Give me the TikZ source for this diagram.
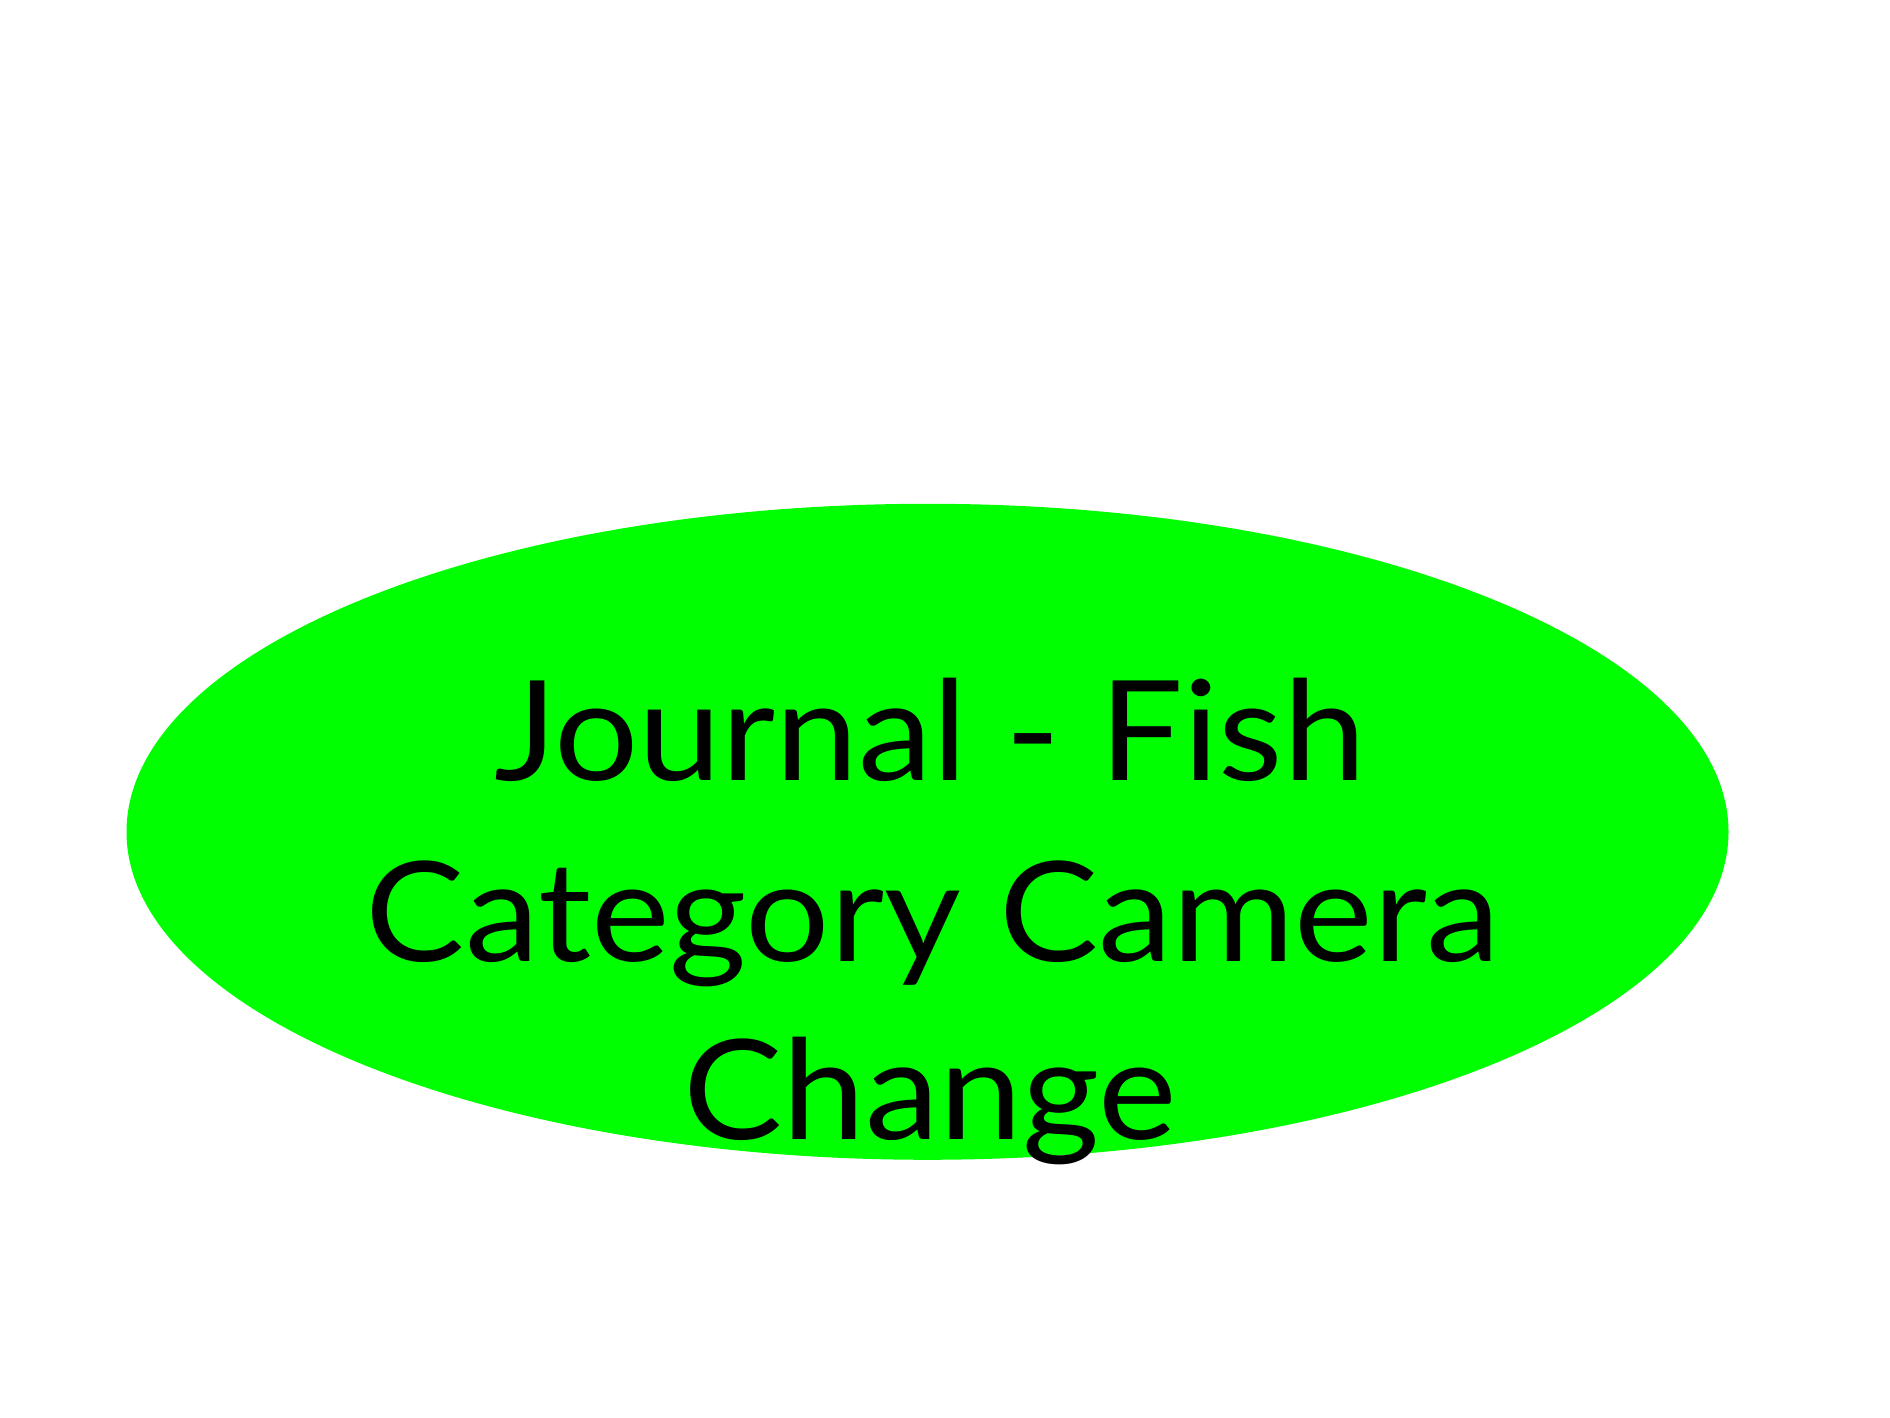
\documentclass[tikz,border=0pt]{standalone}
\usepackage{fontspec}
\setmainfont[FakeStretch=1.07]{Lato}
\begin{document}
\begin{tikzpicture}[x=1pt,y=1pt]
\useasboundingbox[fill=white] (0,0) rectangle (1890,1417);
\definecolor{lime}{RGB}{0,255,0}
\tikzset{blob/.style={fill=lime,draw=none}}
\fill[blob] (927.5,585.2) ellipse [x radius=801, y radius=328];
\node[anchor=base,inner sep=0pt] (l1) at (930,636) {\fontsize{139}{180}\selectfont Journal - Fish};
\node[anchor=base,inner sep=0pt] (l2) at (933,455) {\fontsize{139}{180}\selectfont Category Camera};
\node[anchor=base,inner sep=0pt] (l3) at (930,277) {\fontsize{139}{180}\selectfont Change};
\end{tikzpicture}
\end{document}
